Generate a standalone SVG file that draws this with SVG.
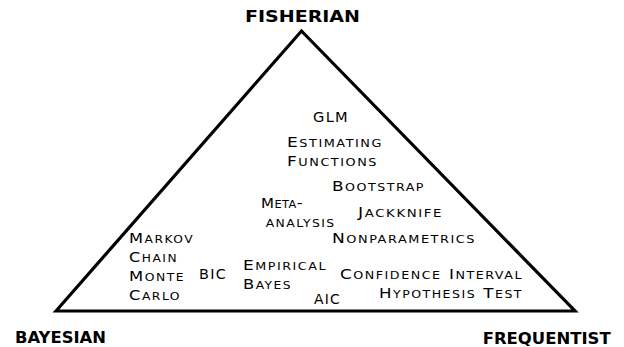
<svg xmlns="http://www.w3.org/2000/svg" width="624" height="347" viewBox="0 0 624 347">
<style>
.lbl{font-family:"DejaVu Sans",sans-serif;font-weight:bold;font-size:15.5px;fill:#000}
.t{font-family:"DejaVu Sans",sans-serif;font-variant:small-caps;font-size:13.3px;letter-spacing:1.2px;fill:#000}
.s{font-size:14.3px}
.edge{fill:none;stroke:#000;stroke-width:3.2;stroke-linejoin:miter}
</style>
<rect width="624" height="347" fill="#fff"/>
<g id="connectors">
<polygon class="edge" points="56,311 301.5,31 575,311"/>
</g>
<g id="fisherian"><text class="lbl" x="245" y="22" textLength="115" lengthAdjust="spacingAndGlyphs">FISHERIAN</text></g>
<g id="bayesian"><text class="lbl" x="15" y="343.3" textLength="91" lengthAdjust="spacingAndGlyphs">BAYESIAN</text></g>
<g id="frequentist"><text class="lbl" x="482.7" y="343.8" textLength="128" lengthAdjust="spacingAndGlyphs">FREQUENTIST</text></g>
<g id="glm"><text class="t" x="313" y="121.7" textLength="36" lengthAdjust="spacingAndGlyphs">GLM</text></g>
<g id="estimating"><text class="t" x="287" y="146.7" textLength="96" lengthAdjust="spacingAndGlyphs">E<tspan class="s">stimating</tspan></text><text class="t" x="287" y="165.7" textLength="91" lengthAdjust="spacingAndGlyphs">F<tspan class="s">unctions</tspan></text></g>
<g id="bootstrap"><text class="t" x="332" y="190.7" textLength="93" lengthAdjust="spacingAndGlyphs">B<tspan class="s">ootstrap</tspan></text></g>
<g id="meta"><text class="t" x="261" y="208" textLength="42" lengthAdjust="spacingAndGlyphs" style="letter-spacing:0.4px">M<tspan class="s">eta-</tspan></text><text class="t" x="265.7" y="227.3" textLength="70" lengthAdjust="spacingAndGlyphs"><tspan class="s">analysis</tspan></text></g>
<g id="jackknife"><text class="t" x="358" y="217" textLength="85" lengthAdjust="spacingAndGlyphs">J<tspan class="s">ackknife</tspan></text></g>
<g id="nonparametrics"><text class="t" x="332" y="243" textLength="144" lengthAdjust="spacingAndGlyphs">N<tspan class="s">onparametrics</tspan></text></g>
<g id="mcmc"><text class="t" x="129" y="243" textLength="65" lengthAdjust="spacingAndGlyphs">M<tspan class="s">arkov</tspan></text><text class="t" x="129" y="262" textLength="49" lengthAdjust="spacingAndGlyphs">C<tspan class="s">hain</tspan></text><text class="t" x="129" y="281" textLength="56" lengthAdjust="spacingAndGlyphs">M<tspan class="s">onte</tspan></text><text class="t" x="129" y="300" textLength="52" lengthAdjust="spacingAndGlyphs">C<tspan class="s">arlo</tspan></text></g>
<g id="bic"><text class="t" x="199" y="279" textLength="28" lengthAdjust="spacingAndGlyphs">BIC</text></g>
<g id="empirical"><text class="t" x="243" y="270.3" textLength="84" lengthAdjust="spacingAndGlyphs">E<tspan class="s">mpirical</tspan></text><text class="t" x="243" y="289" textLength="49" lengthAdjust="spacingAndGlyphs">B<tspan class="s">ayes</tspan></text></g>
<g id="aic"><text class="t" x="314" y="304" textLength="27" lengthAdjust="spacingAndGlyphs">AIC</text></g>
<g id="ci"><text class="t" x="340" y="279.3" textLength="183" lengthAdjust="spacingAndGlyphs">C<tspan class="s">onfidence </tspan>I<tspan class="s">nterval</tspan></text></g>
<g id="ht"><text class="t" x="379" y="298.3" textLength="144" lengthAdjust="spacingAndGlyphs">H<tspan class="s">ypothesis </tspan>T<tspan class="s">est</tspan></text></g>
</svg>
